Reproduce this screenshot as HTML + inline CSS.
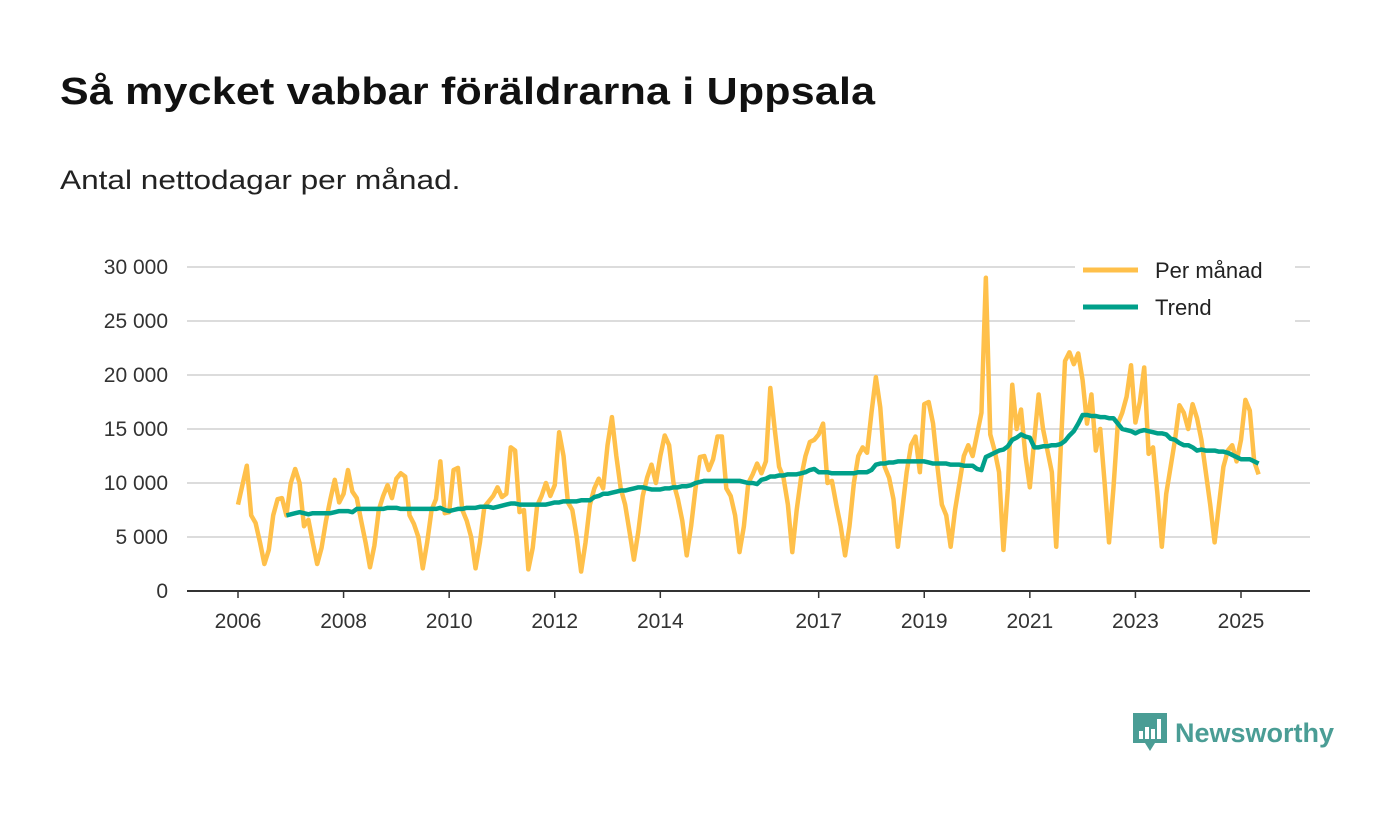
<!DOCTYPE html>
<html><head><meta charset="utf-8"><style>
body{margin:0;background:#fff;font-family:"Liberation Sans",sans-serif;}
#wrap{position:relative;width:1400px;height:813px;overflow:hidden;}
h1{position:absolute;left:60px;top:71px;margin:0;font-size:38px;font-weight:bold;color:#111;letter-spacing:0.2px;transform:scaleX(1.13);transform-origin:0 0;white-space:nowrap}
.sub{position:absolute;left:60px;top:165px;font-size:27px;color:#222;transform:scaleX(1.17);transform-origin:0 0;white-space:nowrap}
</style></head><body>
<div id="wrap">
<h1>Så mycket vabbar föräldrarna i Uppsala</h1>
<div class="sub">Antal nettodagar per månad.</div>
<svg id="chart" width="1400" height="813" style="position:absolute;left:0;top:0"></svg>
<div style="position:absolute;left:1133px;top:713px;display:flex;align-items:center">
<svg width="34" height="40" viewBox="0 0 34 40"><path d="M0 0H34V30H22L17 38L12 30H0Z" fill="#4a9d95"/><rect x="6" y="18" width="4" height="8" fill="#fff"/><rect x="12" y="14" width="4" height="12" fill="#fff"/><rect x="18" y="16" width="4" height="10" fill="#fff"/><rect x="24" y="6" width="4" height="20" fill="#fff"/></svg>
<span style="font-size:27px;font-weight:bold;color:#4a9d95;margin-left:8px">Newsworthy</span></div>
</div>
<script>
const yTicks=[0,5000,10000,15000,20000,25000,30000];
const tickLabels=["0","5 000","10 000","15 000","20 000","25 000","30 000"];
const xTickYears=[2006,2008,2010,2012,2014,2017,2019,2021,2023,2025];
const monthly=[
8.0,9.8,11.6,7.0,6.3,4.5,2.5,3.8,7.0,8.5,8.6,7.0,
10.0,11.3,10.0,6.0,6.6,4.5,2.5,4.0,6.5,8.5,10.3,8.2,
9.0,11.2,9.2,8.6,6.5,4.5,2.2,4.2,7.5,8.8,9.8,8.6,
10.4,10.9,10.6,7.0,6.2,5.0,2.1,4.5,7.5,8.5,12.0,7.2,
7.3,11.2,11.4,7.5,6.5,5.0,2.1,4.5,7.8,8.3,8.8,9.6,
8.7,9.0,13.3,13.0,7.3,7.5,2.0,4.0,7.9,8.8,10.0,8.8,
9.8,14.7,12.5,8.2,7.5,5.0,1.8,4.5,8.0,9.5,10.4,9.5,
13.5,16.1,12.5,9.5,8.0,5.5,2.9,5.5,8.8,10.5,11.7,10.0,
12.5,14.4,13.5,10.0,8.5,6.5,3.3,6.0,9.5,12.4,12.5,11.2,
12.2,14.3,14.3,9.5,8.8,7.0,3.6,6.0,10.0,10.8,11.8,10.9,
12.0,18.8,15.0,11.5,10.5,8.0,3.6,7.5,10.5,12.5,13.8,14.0,
14.5,15.5,10.0,10.2,8.0,6.0,3.3,6.0,10.0,12.5,13.3,12.8,
16.5,19.8,17.0,11.5,10.5,8.5,4.1,7.5,11.0,13.5,14.3,11.0,
17.3,17.5,15.5,11.5,8.0,7.0,4.1,7.5,10.0,12.5,13.5,12.5,
14.5,16.5,29.0,14.5,13.0,11.0,3.8,9.5,19.1,15.0,16.8,12.5,
9.6,14.0,18.2,15.0,13.0,11.0,4.1,13.0,21.3,22.1,21.0,22.0,
19.5,15.5,18.2,13.0,15.0,10.0,4.5,9.5,15.5,16.5,18.0,20.9,
15.6,17.5,20.7,12.7,13.3,9.0,4.1,9.0,11.5,14.0,17.2,16.5,
15.0,17.3,16.0,14.0,11.0,8.0,4.5,8.0,11.5,13.0,13.5,12.0,
14.0,17.7,16.7,12.0,10.8];
const trendStart=11;
const trend=[7.0,
7.1,7.2,7.3,7.2,7.1,7.2,7.2,7.2,7.2,7.2,7.3,7.4,
7.4,7.4,7.3,7.6,7.6,7.6,7.6,7.6,7.6,7.6,7.7,7.7,
7.7,7.6,7.6,7.6,7.6,7.6,7.6,7.6,7.6,7.6,7.7,7.5,
7.4,7.5,7.6,7.6,7.7,7.7,7.7,7.8,7.8,7.8,7.7,7.8,
7.9,8.0,8.1,8.1,8.0,8.0,8.0,8.0,8.0,8.0,8.0,8.1,
8.2,8.2,8.3,8.3,8.3,8.3,8.4,8.4,8.4,8.7,8.8,9.0,
9.0,9.1,9.2,9.3,9.3,9.4,9.5,9.6,9.6,9.5,9.4,9.4,
9.4,9.5,9.5,9.6,9.6,9.7,9.7,9.8,10.0,10.1,10.2,10.2,
10.2,10.2,10.2,10.2,10.2,10.2,10.2,10.1,10.0,10.0,9.9,10.3,
10.4,10.6,10.6,10.7,10.7,10.8,10.8,10.8,10.9,11.0,11.2,11.3,
11.0,11.0,11.0,10.9,10.9,10.9,10.9,10.9,10.9,11.0,11.0,11.0,
11.2,11.7,11.8,11.8,11.9,11.9,12.0,12.0,12.0,12.0,12.0,12.0,
12.0,11.9,11.8,11.8,11.8,11.8,11.7,11.7,11.7,11.6,11.6,11.6,
11.3,11.2,12.4,12.6,12.8,13.0,13.1,13.4,14.0,14.2,14.5,14.3,
14.2,13.3,13.3,13.4,13.4,13.5,13.5,13.6,13.9,14.4,14.8,15.5,
16.3,16.3,16.2,16.2,16.1,16.1,16.0,16.0,15.5,15.0,14.9,14.8,
14.6,14.8,14.9,14.8,14.7,14.6,14.6,14.5,14.1,14.0,13.7,13.5,
13.5,13.3,13.0,13.1,13.0,13.0,13.0,12.9,12.9,12.8,12.6,12.4,
12.2,12.2,12.2,12.0,11.8];
const NS="http://www.w3.org/2000/svg";
const svg=document.getElementById('chart');
const X=i=>238+i*(1241-238)/228;
const Y=v=>591-v*(591-267)/30000;
function mk(t,a){const e=document.createElementNS(NS,t);for(const k in a)e.setAttribute(k,a[k]);svg.appendChild(e);return e;}
yTicks.forEach((v,i)=>{
 if(v>0){const g=mk('line',{x1:187,x2:1310,y1:Y(v),y2:Y(v),stroke:'#dcdcdc','stroke-width':2});
 
 }
 const t=mk('text',{x:168,y:Y(v)+7,'text-anchor':'end','font-size':21,fill:'#333','font-family':'Liberation Sans, sans-serif'});
 t.textContent=tickLabels[i];
 
 
});
const ax=mk('line',{x1:187,x2:1310,y1:591,y2:591,stroke:'#333','stroke-width':2});


xTickYears.forEach(yr=>{
 const x=X((yr-2006)*12);
 const tk=mk('line',{x1:x,x2:x,y1:591,y2:598,stroke:'#333','stroke-width':1.5});
 
 
 const t=mk('text',{x:x,y:628,'text-anchor':'middle','font-size':21,fill:'#333','font-family':'Liberation Sans, sans-serif'});
 t.textContent=yr;
 
 
});
const p1=mk('polyline',{points:monthly.map((v,i)=>X(i)+','+Y(v*1000)).join(' '),fill:'none',stroke:'#ffc04a','stroke-width':4.5,'stroke-linejoin':'round'});


const p2=mk('polyline',{points:trend.map((v,i)=>X(i+trendStart)+','+Y(v*1000)).join(' '),fill:'none',stroke:'#00a08a','stroke-width':4.5,'stroke-linejoin':'round'});


const lb=mk('rect',{x:1075,y:253,width:220,height:70,fill:'#fff'});


[['Per månad','#ffc04a',270],['Trend','#00a08a',307]].forEach(([n,c,y])=>{
 const l=mk('line',{x1:1083,x2:1138,y1:y,y2:y,stroke:c,'stroke-width':5});
 
 
 const t=mk('text',{x:1155,y:y+8,'font-size':22,fill:'#222','font-family':'Liberation Sans, sans-serif'});
 t.textContent=n;
 
 
});
</script>
</body></html>
